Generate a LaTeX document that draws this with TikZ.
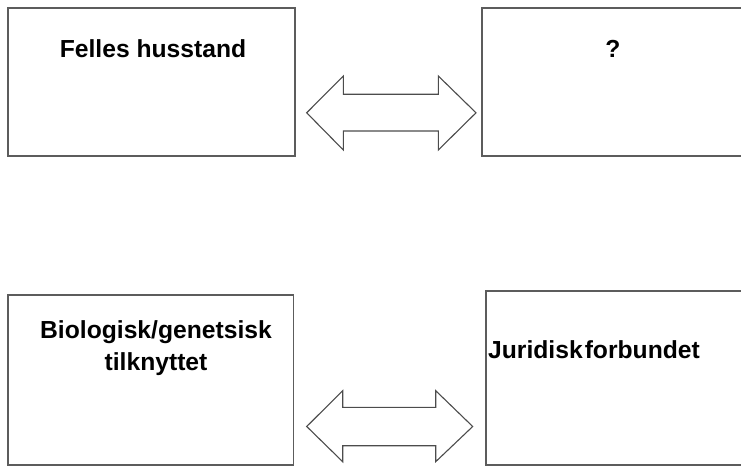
\documentclass[tikz,border=0pt]{standalone}
\usepackage{fontspec}
\setmainfont{Liberation Sans}
\usetikzlibrary{calc}

\newlength{\du}
\setlength{\du}{0.75pt}

\definecolor{boxline}{rgb}{0.360000, 0.360000, 0.360000}
\definecolor{arrowline}{rgb}{0.300000, 0.300000, 0.300000}

\tikzset{
  relbox/.style={draw=boxline, fill=white, line width=1.8\du, inner sep=0pt, rectangle},
  reltext/.style={font=\bfseries\fontsize{18.5}{24}\selectfont, inner sep=0pt, align=center},
  blockarrow/.style={draw=arrowline, fill=white, line width=1.1\du, line join=miter}
}

\begin{document}
\begin{tikzpicture}
\pgftransformxscale{1.000000}
\pgftransformyscale{-1.000000}
\useasboundingbox (0\du,0\du) rectangle (741\du,466\du);
% boxes
\node[relbox, minimum width=286.7\du, minimum height=147.4\du] (felles) at (151.650000\du,82.000000\du){};
\node[relbox, minimum width=262.3\du, minimum height=147.4\du] (ukjent) at (612.850000\du,82.000000\du){};
\node[relbox, minimum width=285.2\du, minimum height=169.8\du] (bio) at (150.900000\du,379.900000\du){};
\node[relbox, minimum width=258.0\du, minimum height=173.8\du] (juridisk) at (615.000000\du,377.900000\du){};
% texts
\node[reltext, anchor=base] (fellestext) at (153.000000\du,57.500000\du){Felles husstand};
\node[reltext, anchor=base] (ukjenttext) at (612.850000\du,57.500000\du){?};
\node[reltext, anchor=north] (biotext) at (156.000000\du,320.000000\du){Biologisk/genetsisk\\tilknyttet};
\node[reltext, anchor=base] (juridisktext) at (594.000000\du,358.500000\du){Juridisk\hspace{0.08em}forbundet};
% top arrow
\draw[blockarrow] (306.700000\du,112.800000\du)--(343.300000\du,76.000000\du)--(343.300000\du,94.300000\du)--(438.300000\du,94.300000\du)--(438.300000\du,76.000000\du)--(476.000000\du,112.800000\du)--(438.300000\du,150.000000\du)--(438.300000\du,131.000000\du)--(343.300000\du,131.000000\du)--(343.300000\du,150.000000\du)--cycle;
% bottom arrow
\draw[blockarrow] (306.700000\du,426.500000\du)--(342.700000\du,390.700000\du)--(342.700000\du,407.300000\du)--(435.700000\du,407.300000\du)--(435.700000\du,390.700000\du)--(472.700000\du,426.500000\du)--(435.700000\du,461.700000\du)--(435.700000\du,445.700000\du)--(342.700000\du,445.700000\du)--(342.700000\du,461.700000\du)--cycle;
\end{tikzpicture}
\end{document}
